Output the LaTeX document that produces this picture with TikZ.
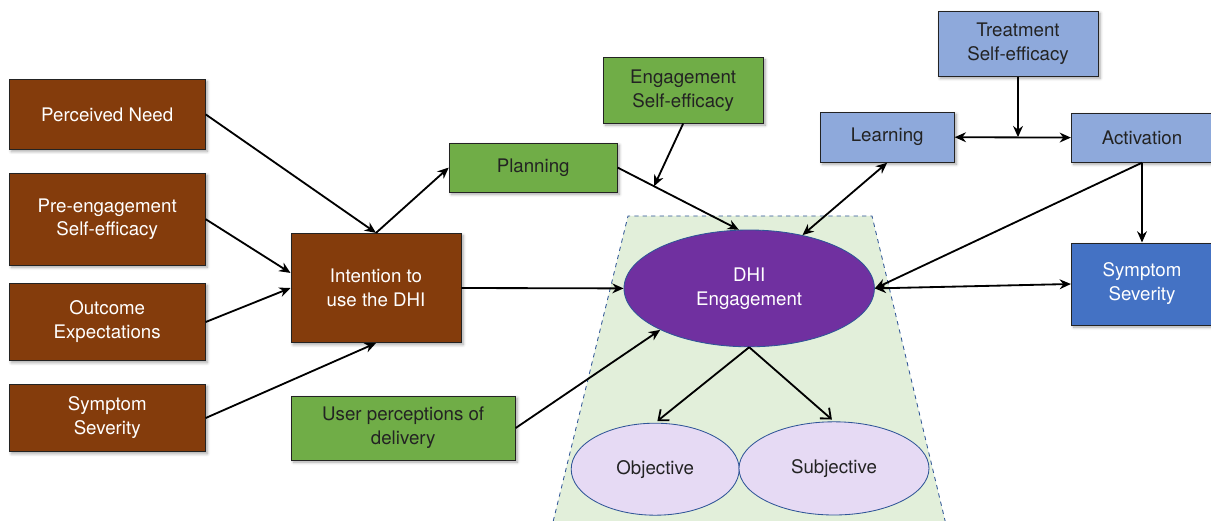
\documentclass[tikz,border=0pt]{standalone}
\usepackage{fontspec}
\setmainfont{TeX Gyre Heros}
\usepackage{xcolor}
\usepackage{tikz}
\definecolor{darkbrown}{RGB}{132, 60, 12}
\definecolor{leafgreen}{RGB}{112, 173, 71}
\definecolor{paleblue}{RGB}{142, 169, 219}
\definecolor{midblue}{RGB}{68, 114, 196}
\definecolor{deeppurple}{RGB}{112, 48, 160}
\definecolor{lilac}{RGB}{230, 218, 244}
\definecolor{palegreen}{RGB}{226, 239, 218}
\definecolor{edgeblue}{RGB}{47, 85, 151}
\definecolor{darkgray}{RGB}{35, 35, 35}
\usetikzlibrary{shapes,arrows.meta,positioning,calc,shadows.blur}

\begin{document}
\begin{tikzpicture}[
    box/.style={
        rectangle,
        draw=darkgray,
        line width=0.7pt,
        inner sep=2pt,
        align=center,
        font=\fontsize{13.3}{17}\selectfont,
        blur shadow={shadow xshift=1.5pt, shadow yshift=-1.5pt, shadow blur steps=6, shadow opacity=35}
    },
    oval/.style={
        ellipse,
        draw=edgeblue,
        line width=0.6pt,
        inner sep=0pt,
        align=center,
        font=\fontsize{13.3}{17}\selectfont
    },
    arrow/.style={-{Stealth[length=8pt,width=7pt]},line width=1.3pt},
    twoway/.style={{Stealth[length=8pt,width=7pt]}-{Stealth[length=8pt,width=7pt]},line width=1.3pt},
    openarrow/.style={-{Straight Barb[length=6pt,width=10pt]},line width=1.3pt}
]
    \clip (0,0) rectangle (30.275,-13.025);
    % Engagement zone
    \fill[palegreen] (15.7,-5.4) -- (21.8,-5.4) -- (23.63,-13.03) -- (13.83,-13.03) -- cycle;
    \draw[edgeblue, dashed, line width=0.6pt] (13.83,-13.03) -- (15.7,-5.4) -- (21.8,-5.4) -- (23.63,-13.03);

    % Antecedents
    \node[box, fill=darkbrown, text=white, minimum width=4.9cm, minimum height=1.75cm] (need) at (2.68,-2.86) {Perceived Need};
    \node[box, fill=darkbrown, text=white, minimum width=4.9cm, minimum height=2.3cm] (preeff) at (2.68,-5.48) {Pre-engagement\\Self-efficacy};
    \node[box, fill=darkbrown, text=white, minimum width=4.9cm, minimum height=1.93cm] (outcome) at (2.68,-8.05) {Outcome\\Expectations};
    \node[box, fill=darkbrown, text=white, minimum width=4.9cm, minimum height=1.68cm] (severityA) at (2.68,-10.45) {Symptom\\Severity};
    \node[box, fill=darkbrown, text=white, minimum width=4.25cm, minimum height=2.73cm] (intention) at (9.4,-7.2) {Intention to\\use the DHI};

    % Green factors
    \node[box, fill=leafgreen, text=darkgray, minimum width=4.2cm, minimum height=1.23cm] (planning) at (13.33,-4.19) {Planning};
    \node[box, fill=leafgreen, text=darkgray, minimum width=4.0cm, minimum height=1.63cm] (engeff) at (17.08,-2.26) {Engagement\\Self-efficacy};
    \node[box, fill=leafgreen, text=darkgray, minimum width=5.6cm, minimum height=1.6cm] (userperc) at (10.08,-10.7) {User perceptions of\\delivery};

    % Treatment side
    \node[box, fill=paleblue, text=darkgray, minimum width=4.0cm, minimum height=1.63cm] (treateff) at (25.45,-1.09) {Treatment\\Self-efficacy};
    \node[box, fill=paleblue, text=darkgray, minimum width=3.35cm, minimum height=1.25cm] (learning) at (22.18,-3.43) {Learning};
    \node[box, fill=paleblue, text=darkgray, minimum width=3.53cm, minimum height=1.23cm] (activation) at (28.55,-3.44) {Activation};
    \node[box, fill=midblue, text=white, minimum width=3.53cm, minimum height=2.05cm] (severityB) at (28.55,-7.1) {Symptom\\Severity};

    % Engagement and its facets
    \node[oval, fill=deeppurple, text=white, minimum width=6.26cm, minimum height=2.92cm] (engage) at (18.73,-7.21) {DHI\\Engagement};
    \node[oval, fill=lilac, text=darkgray, minimum width=4.2cm, minimum height=2.3cm] (objective) at (16.38,-11.73) {Objective};
    \node[oval, fill=lilac, text=darkgray, minimum width=4.75cm, minimum height=2.33cm] (subjective) at (20.85,-11.71) {Subjective};

    % Helper points
    \coordinate (plmid) at ($(planning.east)!0.3!(engage.100)$);
    \coordinate (lamid) at (treateff.south |- learning.east);

    % Arrows
    \draw[arrow] (need.east) -- (intention.north);
    \draw[arrow] (preeff.east) -- (intention.170);
    \draw[arrow] (outcome.east) -- (intention.west);
    \draw[arrow] (severityA.east) -- (intention.south);
    \draw[arrow] (intention.north) -- (planning.west);
    \draw[arrow] (intention.east) -- (engage.west);
    \draw[arrow] (userperc.east) -- (engage.205);
    \draw[arrow] (planning.east) -- (engage.100);
    \draw[arrow] (engeff.south) -- (plmid);
    \draw[twoway] (learning.south) -- (engage.45);
    \draw[twoway] (learning.east) -- (activation.west);
    \draw[arrow] (treateff.south) -- (lamid);
    \draw[arrow] (activation.south) -- (severityB.north);
    \draw[arrow] (activation.south) -- (engage.east);
    \draw[twoway] (engage.east) -- (severityB.west);
    \draw[openarrow, shorten >=2pt] (engage.south) -- (objective.north);
    \draw[openarrow, shorten >=2pt] (engage.south) -- (subjective.north);
\end{tikzpicture}
\end{document}
